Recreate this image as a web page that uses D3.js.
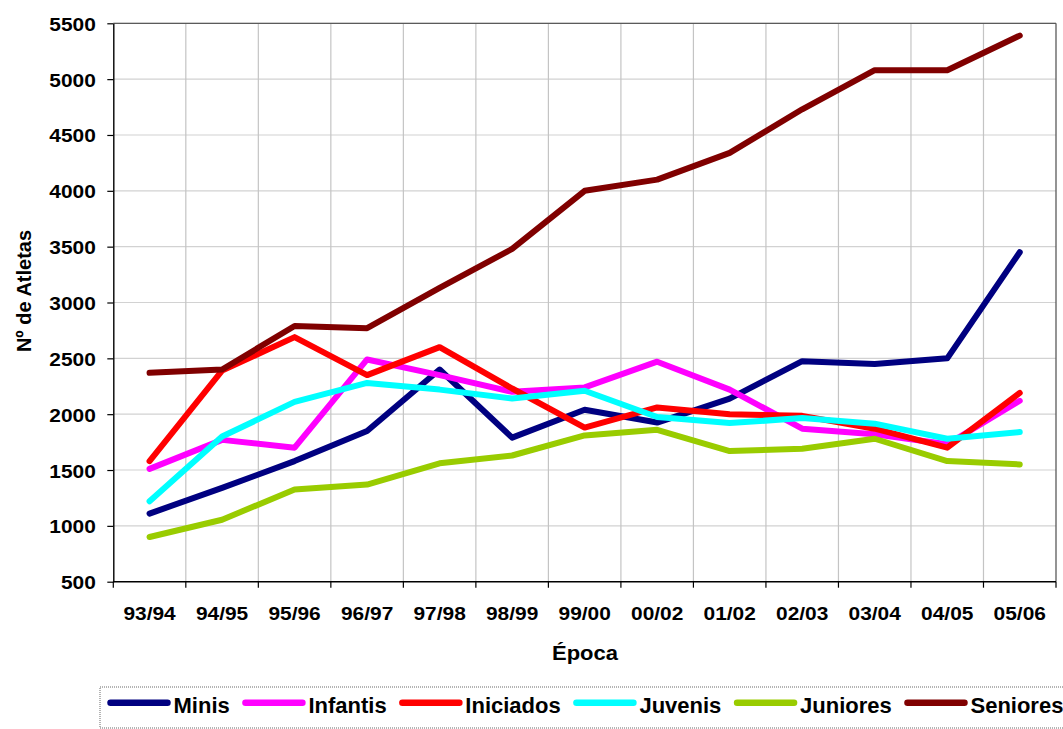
<!DOCTYPE html>
<html>
<head>
<meta charset="utf-8">
<script src="https://cdn.jsdelivr.net/npm/d3@7"></script>
<style>
  html, body { margin: 0; padding: 0; background: #fff; }
  svg { display: block; }
  text { font-family: "Liberation Sans", Arial, sans-serif; font-weight: bold; fill: #000; }
</style>
</head>
<body>
<svg id="chart" width="1063" height="729"></svg>
<script>
const categories = ["93/94","94/95","95/96","96/97","97/98","98/99","99/00","00/02","01/02","02/03","03/04","04/05","05/06"];
const yTicks = [500,1000,1500,2000,2500,3000,3500,4000,4500,5000,5500];
const seriesNames = ["Minis","Infantis","Iniciados","Juvenis","Juniores","Seniores"];
const seriesColors = ["#000080","#FF00FF","#FF0000","#00FFFF","#99CC00","#800000"];
const minis     = [1110,1340,1580,1850,2400,1790,2040,1925,2140,2475,2450,2500,3450];
const infantis  = [1510,1770,1700,2490,2350,2200,2240,2470,2220,1870,1820,1730,2120];
const iniciados = [1580,2390,2690,2350,2600,2230,1880,2060,2000,1985,1870,1700,2190];
const juvenis   = [1220,1800,2110,2280,2220,2140,2210,1975,1920,1965,1915,1780,1840];
const juniores  = [900,1055,1325,1370,1560,1630,1810,1860,1670,1690,1780,1580,1550];
const seniores  = [2370,2400,2790,2770,3130,3480,4000,4100,4340,4730,5080,5080,5390];
const seriesValues = [minis, infantis, iniciados, juvenis, juniores, seniores];

const svg = d3.select("#chart");
const L = 113.3, R = 1056, T = 23.3, B = 581.7;
const stretch = 1.1;

const x = d3.scaleBand().domain(categories).range([L, R]).padding(0);
const y = d3.scaleLinear().domain([500, 5500]).range([B, T]);
const bw = x.bandwidth();

// gridlines
const g = svg.append("g");
g.selectAll("line.hg").data(yTicks.slice(1)).join("line")
  .attr("x1", L).attr("x2", R).attr("y1", d => y(d)).attr("y2", d => y(d))
  .attr("stroke", "#d2d2d2").attr("stroke-width", 1.2);
g.selectAll("line.vg").data(categories.slice(1)).join("line")
  .attr("x1", d => x(d)).attr("x2", d => x(d)).attr("y1", T).attr("y2", B)
  .attr("stroke", "#c4c4c4").attr("stroke-width", 1.2);

// top & right border
svg.append("line").attr("x1", L).attr("x2", R).attr("y1", T).attr("y2", T).attr("stroke", "#5a5a5a").attr("stroke-width", 1.3);
svg.append("line").attr("x1", R).attr("x2", R).attr("y1", T).attr("y2", B).attr("stroke", "#5a5a5a").attr("stroke-width", 1.3);

// y axis
const yAxis = svg.append("g").attr("transform", `translate(${L},0)`)
  .call(d3.axisLeft(y).tickValues(yTicks).tickFormat(d3.format("d")).tickSize(6).tickPadding(0).tickSizeOuter(0));
yAxis.select(".domain").attr("stroke", "#000").attr("stroke-width", 1.4);
yAxis.selectAll(".tick line").attr("stroke", "#000").attr("stroke-width", 1.2);
yAxis.selectAll(".tick text")
  .attr("x", null).attr("dy", null)
  .attr("transform", `translate(-17.5,7) scale(${stretch},1)`)
  .attr("text-anchor", "end")
  .style("font-size", "19px").style("font-family", "Liberation Sans, Arial, sans-serif").style("font-weight", "bold");

// x axis
const xAxis = svg.append("g").attr("transform", `translate(0,${B})`);
xAxis.append("line").attr("x1", L).attr("x2", R).attr("y1", 0).attr("y2", 0).attr("stroke", "#000").attr("stroke-width", 1.4);
xAxis.selectAll("line.xt").data(categories.concat(["__end"])).join("line")
  .attr("x1", (d, i) => L + i * bw).attr("x2", (d, i) => L + i * bw)
  .attr("y1", 0).attr("y2", 6).attr("stroke", "#000").attr("stroke-width", 1.2);
xAxis.selectAll("text").data(categories).join("text")
  .attr("transform", d => `translate(${x(d) + bw / 2},38.5) scale(${stretch},1)`)
  .attr("text-anchor", "middle")
  .style("font-size", "19px")
  .text(d => d);

// axis titles
svg.append("text")
  .attr("transform", `translate(585,659.5) scale(${stretch},1)`)
  .attr("text-anchor", "middle").style("font-size", "20px").text("Época");
svg.append("text")
  .attr("transform", "translate(31,291) rotate(-90)")
  .attr("text-anchor", "middle").style("font-size", "20px").text("Nº de Atletas");

// lines
const line = d3.line().x((d, i) => x(categories[i]) + bw / 2).y(d => y(d));
svg.append("g").selectAll("path").data(seriesValues).join("path")
  .attr("d", d => line(d))
  .attr("fill", "none")
  .attr("stroke", (d, i) => seriesColors[i])
  .attr("stroke-width", 6)
  .attr("stroke-linejoin", "round")
  .attr("stroke-linecap", "round");

// legend
const lg = svg.append("g");
lg.append("rect").attr("x", 100).attr("y", 687).attr("width", 975).attr("height", 41)
  .attr("fill", "#fff").attr("stroke", "#b4b4b4").attr("stroke-width", 2).attr("stroke-dasharray", "1 1");
let cx = 107.5;
seriesNames.forEach((name, i) => {
  lg.append("line").attr("x1", cx + 3).attr("x2", cx + 60).attr("y1", 702.7).attr("y2", 702.7)
    .attr("stroke", seriesColors[i]).attr("stroke-width", 6.5).attr("stroke-linecap", "round");
  const t = lg.append("text").attr("x", cx + 66).attr("y", 713.3).style("font-size", "22px").text(name);
  const w = t.node().getComputedTextLength();
  cx = cx + 66 + w + 12.7;
});
</script>
</body>
</html>
